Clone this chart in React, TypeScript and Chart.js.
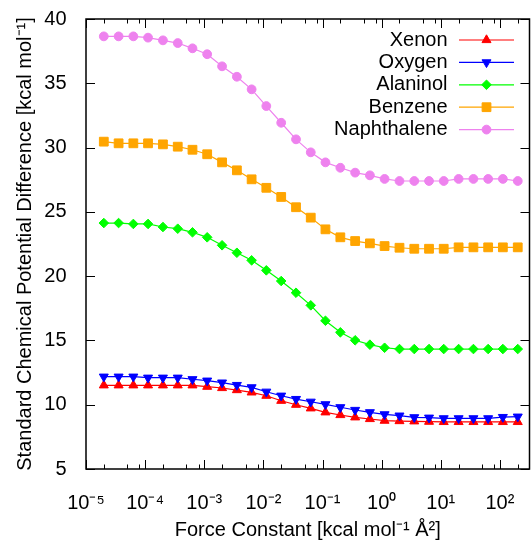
import React, { useEffect, useRef } from 'react';
import { Chart, registerables } from 'chart.js';

Chart.register(...registerables);

// ---------- data ----------
const forceConstants = [
  2e-5, 3.56e-5, 6.32e-5, 1.12e-4, 2e-4, 3.56e-4, 6.32e-4, 1.12e-3, 2e-3, 3.56e-3,
  6.32e-3, 1.12e-2, 2e-2, 3.56e-2, 6.32e-2, 0.112, 0.2, 0.356, 0.632, 1.12,
  2, 3.56, 6.32, 11.2, 20, 35.6, 63.2, 112, 200,
];

const xenon = [
  11.51, 11.51, 11.51, 11.51, 11.51, 11.51, 11.51, 11.4, 11.3, 11.14,
  10.96, 10.7, 10.31, 10.0, 9.72, 9.41, 9.2, 9.02, 8.89, 8.76,
  8.73, 8.71, 8.68, 8.66, 8.66, 8.66, 8.66, 8.66, 8.66,
];

const oxygen = [
  12.18, 12.18, 12.18, 12.1, 12.1, 12.1, 11.98, 11.87, 11.72, 11.53,
  11.35, 11.01, 10.7, 10.44, 10.23, 10.03, 9.8, 9.59, 9.41, 9.25,
  9.15, 9.02, 8.99, 8.94, 8.94, 8.94, 8.94, 9.04, 9.07,
];

const alaninol = [
  24.13, 24.13, 24.06, 24.06, 23.82, 23.69, 23.41, 23.02, 22.4, 21.82,
  21.23, 20.45, 19.62, 18.71, 17.73, 16.53, 15.63, 15.01, 14.67, 14.43,
  14.33, 14.33, 14.33, 14.33, 14.33, 14.33, 14.33, 14.33, 14.33,
];

const benzene = [
  30.46, 30.33, 30.33, 30.33, 30.25, 30.07, 29.83, 29.48, 28.85, 28.23,
  27.53, 26.87, 26.16, 25.36, 24.55, 23.64, 23.02, 22.73, 22.55, 22.34,
  22.21, 22.13, 22.13, 22.13, 22.24, 22.24, 22.24, 22.24, 22.24,
];

const naphthalene = [
  38.65, 38.65, 38.65, 38.55, 38.34, 38.13, 37.72, 37.26, 36.32, 35.51,
  34.53, 33.23, 31.93, 30.64, 29.63, 28.85, 28.43, 28.05, 27.84, 27.56,
  27.4, 27.4, 27.4, 27.4, 27.56, 27.56, 27.56, 27.56, 27.4,
];

const seriesLabels = ['Xenon', 'Oxygen', 'Alaninol', 'Benzene', 'Naphthalene'];

const xTickValues = [1e-5, 1e-4, 1e-3, 1e-2, 1e-1, 1, 10, 100];
const xTickLabels = ['10⁻⁵', '10⁻⁴', '10⁻³', '10⁻²', '10⁻¹', '10⁰', '10¹', '10²'];
const xMinorMultipliers = [2, 5, 8];
const yTickValues = [5, 10, 15, 20, 25, 30, 35, 40];

const xTitle = 'Force Constant [kcal mol⁻¹ Å²]';
const yTitle = 'Standard Chemical Potential Difference [kcal mol⁻¹]';

// ---------- styles ----------
const FONT = '"Liberation Sans", Arial, Helvetica, sans-serif';
const styles = [
  { color: '#ff0000', pointStyle: 'triangle', radius: 5.2, rotation: 0 },
  { color: '#0000ff', pointStyle: 'triangle', radius: 5.2, rotation: 180 },
  { color: '#00ff00', pointStyle: 'rectRot', radius: 4.8, rotation: 0 },
  { color: '#ffa500', pointStyle: 'rect', radius: 6.2, rotation: 0 },
  { color: '#ee82ee', pointStyle: 'circle', radius: 4.4, rotation: 0 },
];

function drawMarker(ctx: CanvasRenderingContext2D, style: string, rot: number, x: number, y: number, r: number) {
  ctx.beginPath();
  if (style === 'circle') {
    ctx.arc(x, y, r, 0, Math.PI * 2);
  } else if (style === 'rect') {
    const h = Math.SQRT1_2 * r;
    ctx.rect(x - h, y - h, 2 * h, 2 * h);
  } else if (style === 'rectRot') {
    ctx.moveTo(x, y - r);
    ctx.lineTo(x + r, y);
    ctx.lineTo(x, y + r);
    ctx.lineTo(x - r, y);
    ctx.closePath();
  } else if (style === 'triangle') {
    const s = rot === 180 ? -1 : 1;
    ctx.moveTo(x, y - s * r);
    ctx.lineTo(x + 0.866 * r, y + s * 0.5 * r);
    ctx.lineTo(x - 0.866 * r, y + s * 0.5 * r);
    ctx.closePath();
  }
  ctx.fill();
  ctx.stroke();
}

const framePlugin = {
  id: 'gnuFrame',
  afterDraw(chart: any) {
    const { ctx, chartArea: a, scales } = chart;
    const xs = scales.x;
    const ys = scales.y;
    ctx.save();
    ctx.strokeStyle = '#000';
    ctx.lineWidth = 1;
    ctx.beginPath();
    const major = 9;
    const minor = 4.5;
    for (const v of xTickValues) {
      const px = Math.round(xs.getPixelForValue(v)) + 0.5;
      ctx.moveTo(px, a.bottom); ctx.lineTo(px, a.bottom - major);
      ctx.moveTo(px, a.top); ctx.lineTo(px, a.top + major);
      for (const m of xMinorMultipliers) {
        const mv = v * m;
        if (mv > xs.max) continue;
        const mx = Math.round(xs.getPixelForValue(mv)) + 0.5;
        ctx.moveTo(mx, a.bottom); ctx.lineTo(mx, a.bottom - minor);
        ctx.moveTo(mx, a.top); ctx.lineTo(mx, a.top + minor);
      }
    }
    for (const v of yTickValues) {
      const py = Math.round(ys.getPixelForValue(v)) + 0.5;
      ctx.moveTo(a.left, py); ctx.lineTo(a.left + major, py);
      ctx.moveTo(a.right, py); ctx.lineTo(a.right - major, py);
    }
    ctx.stroke();
    ctx.lineWidth = 1.5;
    ctx.strokeRect(a.left, a.top, a.right - a.left, a.bottom - a.top);
    ctx.restore();
  },
};

const keyPlugin = {
  id: 'gnuKey',
  afterDraw(chart: any) {
    const { ctx, chartArea: a } = chart;
    ctx.save();
    ctx.font = `20px ${FONT}`;
    ctx.textAlign = 'right';
    ctx.textBaseline = 'middle';
    const textRight = a.right - 82;
    const lineStart = a.right - 70.5;
    const lineEnd = a.right - 15.5;
    const markX = (lineStart + lineEnd) / 2;
    seriesLabels.forEach((label, i) => {
      const st = styles[i];
      const y = a.top + 21 + i * 22.4;
      ctx.fillStyle = '#000';
      ctx.fillText(label, textRight, y);
      ctx.strokeStyle = st.color;
      ctx.fillStyle = st.color;
      ctx.lineWidth = 1.2;
      ctx.beginPath();
      ctx.moveTo(lineStart, y);
      ctx.lineTo(lineEnd, y);
      ctx.stroke();
      ctx.lineWidth = 1;
      drawMarker(ctx, st.pointStyle, st.rotation, markX, y, st.radius);
    });
    ctx.restore();
  },
};

function clearPadding(s: any) {
  s.paddingLeft = 0;
  s.paddingRight = 0;
  s.paddingTop = 0;
  s.paddingBottom = 0;
}

export default function App() {
  const canvasRef = useRef<HTMLCanvasElement | null>(null);

  useEffect(() => {
    document.body.style.margin = '0';
    const canvas = canvasRef.current;
    if (!canvas) return;
    const allSeries = [xenon, oxygen, alaninol, benzene, naphthalene];
    const datasets = allSeries.map((vals, i) => ({
      label: seriesLabels[i],
      data: forceConstants.map((x, j) => ({ x, y: vals[j] })),
      borderColor: styles[i].color,
      backgroundColor: styles[i].color,
      pointBackgroundColor: styles[i].color,
      pointBorderColor: styles[i].color,
      borderWidth: 1.2,
      pointBorderWidth: 1,
      pointRadius: styles[i].radius,
      pointStyle: styles[i].pointStyle,
      pointRotation: styles[i].rotation,
      tension: 0,
      fill: false,
      clip: false,
      order: allSeries.length - 1 - i,
    }));

    const chart = new Chart(canvas, {
      type: 'line',
      data: { datasets },
      options: {
        animation: false,
        responsive: false,
        devicePixelRatio: 1,
        layout: { autoPadding: false, padding: { top: 19, right: 1.5, bottom: 0, left: 0 } },
        plugins: { legend: { display: false }, tooltip: { enabled: false } },
        scales: {
          x: {
            type: 'logarithmic',
            min: 1e-5,
            max: 316,
            grid: { display: false },
            border: { display: false },
            afterBuildTicks: (s: any) => {
              s.ticks = xTickValues.map((v) => ({ value: v }));
            },
            afterFit: (s: any) => {
              s.height = 71;
              clearPadding(s);
            },
            ticks: {
              autoSkip: false,
              maxRotation: 0,
              minRotation: 0,
              padding: 14,
              color: '#000',
              font: { family: FONT, size: 20 },
              callback: (v: any) => {
                const idx = xTickValues.findIndex((t) => Math.abs(Math.log10(t) - Math.log10(Number(v))) < 1e-6);
                return idx >= 0 ? xTickLabels[idx] : '';
              },
            },
            title: {
              display: true,
              text: xTitle,
              color: '#000',
              font: { family: FONT, size: 20, lineHeight: 1 },
              padding: { top: 0, bottom: 0 },
            },
          },
          y: {
            type: 'linear',
            min: 5,
            max: 40,
            grid: { display: false },
            border: { display: false },
            afterBuildTicks: (s: any) => {
              s.ticks = yTickValues.map((v) => ({ value: v }));
            },
            afterFit: (s: any) => {
              s.width = 86;
              clearPadding(s);
            },
            ticks: {
              padding: 11.5,
              color: '#000',
              font: { family: FONT, size: 20 },
            },
            title: {
              display: true,
              text: yTitle,
              color: '#000',
              font: { family: FONT, size: 20, lineHeight: 1 },
              padding: { top: 15, bottom: 0 },
            },
          },
        },
      },
      plugins: [framePlugin, keyPlugin],
    } as any);

    return () => {
      chart.destroy();
    };
  }, []);

  return (
    <div style={{ width: 531, height: 540 }}>
      <canvas ref={canvasRef} width={531} height={540} style={{ display: 'block' }} />
    </div>
  );
}
